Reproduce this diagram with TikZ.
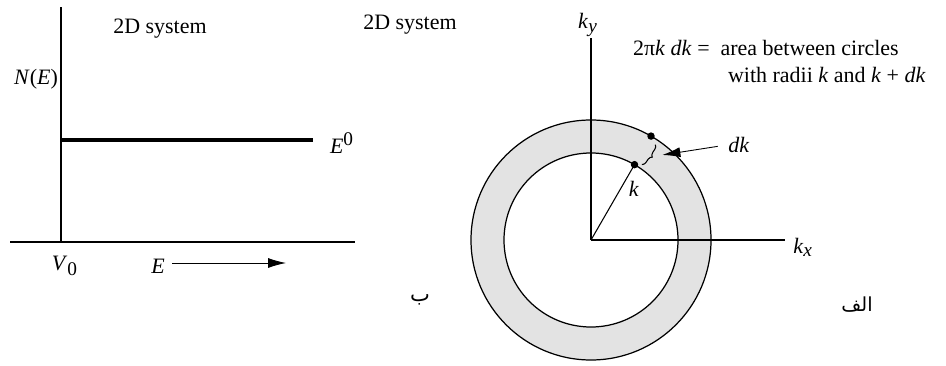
\documentclass[tikz,border=0pt]{standalone}
\usepackage{fontspec}
\setmainfont{Liberation Serif}
\newfontfamily\arabicfont[Script=Arabic]{DejaVu Sans}
\TeXXeTstate=1
\usepackage{tikz}
\usetikzlibrary{arrows.meta,positioning,calc,decorations.pathreplacing}

\begin{document}
\begin{tikzpicture}[
  every node/.style={font=\fontsize{12.5}{15}\selectfont, inner sep=1pt},
  axis/.style={line width=.9pt},
  ring/.style={line width=.7pt},
  pointer/.style={-{Latex[length=3.6mm,width=2mm]}, line width=.5pt},
  spot/.style={circle, fill=black, inner sep=1.5pt}
]
\useasboundingbox (0,0) rectangle (18.92,7.30);
% left panel: density of states
\coordinate (V) at (1.22,2.46);
\draw[axis] (0.2,2.46)--(7.1,2.46);
\draw[axis] (V)--(1.22,7.16);
\draw[line width=2pt] (1.22,4.5)--(6.26,4.5);
\node (sysL) at (3.2,6.72) {2D system};
\node (NE) at (0.72,5.72) {\textit{N}(\textit{E})};
\node (E0) at (6.84,4.44) {\textit{E}\textsuperscript{\fontsize{11}{12}\selectfont 0}};
\node (V0) at (1.3,1.98) {\textit{V}\textsubscript{\fontsize{11}{12}\selectfont 0}};
\node (Elab) at (3.16,1.98) {\textit{E}};
\coordinate (Estart) at (3.44,2.04);
\coordinate (Eend) at (5.72,2.04);
\draw[pointer] (Estart)--(Eend);
\node (sysR) at (8.2,6.8) {2D system};
\node (be) at (8.4,1.3) {\arabicfont\fontsize{12}{14}\selectfont\beginR ب\endR};
% right panel: k-space ring
\coordinate (O) at (11.82,2.5);
\fill[gray!22, even odd rule] (O) circle (2.4) (O) circle (1.74);
\draw[ring] (O) circle (2.4);
\draw[ring] (O) circle (1.74);
\draw[axis] (O)--(11.82,6.54);
\draw[axis] (O)--(15.7,2.5);
\node (ky) at (11.76,6.8) {\textit{k}\textsubscript{\fontsize{11}{12}\selectfont\textit{y}}};
\node (kx) at (16.06,2.36) {\textit{k}\textsubscript{\fontsize{11}{12}\selectfont\textit{x}}};
\node[spot] (pin) at ($(O)+(60:1.74)$) {};
\node[spot] (pout) at ($(O)+(60:2.4)$) {};
\draw[line width=.6pt] (O)--(pin.center);
\draw[line width=.6pt, decorate, decoration={brace, amplitude=2.5pt}]
  ($(O)+(56:2.3)$)--($(O)+(56:1.82)$);
\node (klab) at (12.68,3.52) {\textit{k}};
\node (dk) at (14.78,4.4) {\textit{dk}};
\coordinate (dkend) at ($(O)+(50:2.22)$);
\draw[pointer, shorten <=5pt] (dk.west)--(dkend);
\node[anchor=west] (area1) at (12.62,6.34) {2π\textit{k} \textit{dk} =\ \ area between circles};
\node[anchor=west] (area2) at (14.52,5.8) {with radii \textit{k} and \textit{k} + \textit{dk}};
\node (alef) at (17.14,1.2) {\arabicfont\fontsize{11}{12}\selectfont\beginR الف\endR};
\end{tikzpicture}
\end{document}
